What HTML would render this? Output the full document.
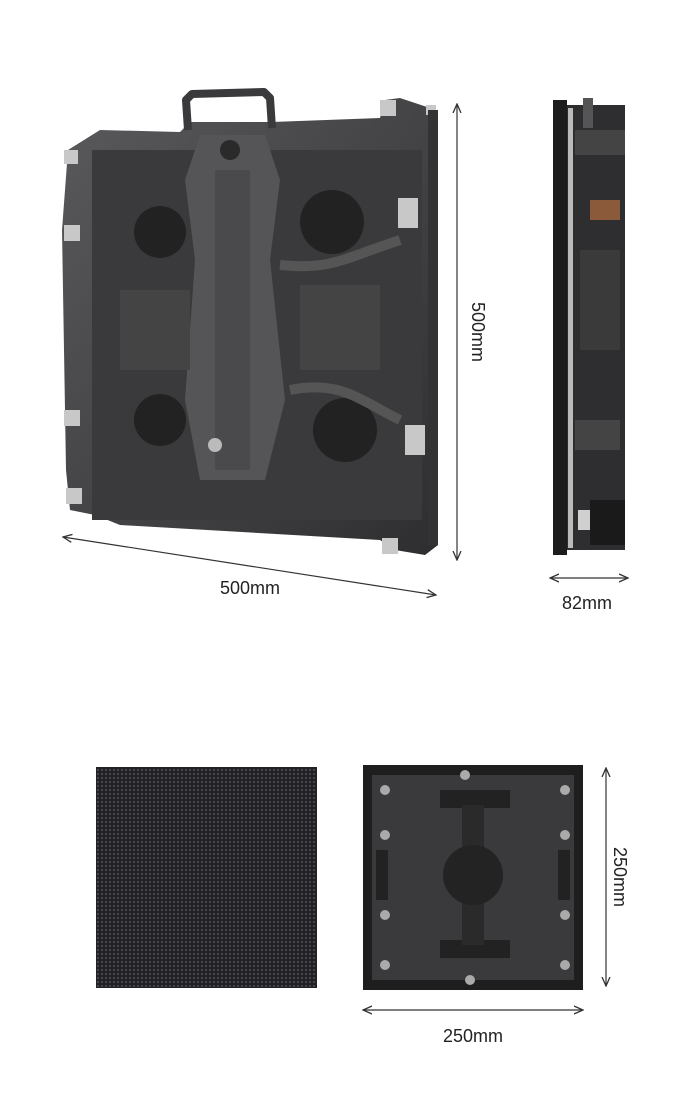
<!DOCTYPE html>
<html><head><meta charset="utf-8"><style>
html,body{margin:0;padding:0;background:#fff;}
svg{display:block;}
text{font-family:"Liberation Sans",Arial,sans-serif;fill:#222;}
</style></head><body>
<svg width="700" height="1100" viewBox="0 0 700 1100" xmlns="http://www.w3.org/2000/svg">
<defs>
<marker id="a" markerWidth="10" markerHeight="10" refX="9" refY="5" orient="auto-start-reverse" markerUnits="userSpaceOnUse">
<path d="M0,1 L9,5 L0,9" fill="none" stroke="#333" stroke-width="1.3"/></marker>
<pattern id="dots" width="4" height="4" patternUnits="userSpaceOnUse">
<rect width="4" height="4" fill="#222226"/><circle cx="2" cy="2" r="1" fill="#505058"/></pattern>
<linearGradient id="g1" x1="0" y1="0" x2="1" y2="1"><stop offset="0" stop-color="#5a5a5c"/><stop offset="1" stop-color="#2e2e30"/></linearGradient>
</defs>

<!-- main cabinet -->
<path d="M100,130 L180,132 L190,122 L272,122 L380,118 L385,100 L400,98 L430,108 L438,545 L425,555 L395,550 L380,540 L120,525 L95,515 L70,510 L66,470 L62,230 L68,150 Z" fill="url(#g1)"/>
<path d="M188,130 L186,100 L192,94 L264,92 L270,98 L272,128" fill="none" stroke="#3a3a3c" stroke-width="8" stroke-linejoin="round"/>
<rect x="92" y="150" width="330" height="370" fill="#3a3a3c"/>
<path d="M200,135 L265,135 L280,180 L270,260 L285,400 L265,480 L200,480 L185,400 L195,260 L185,180 Z" fill="#555557"/>
<rect x="215" y="170" width="35" height="300" fill="#4a4a4c"/>
<circle cx="230" cy="150" r="10" fill="#2a2a2a"/>
<circle cx="215" cy="445" r="7" fill="#bbb"/>
<g fill="#222">
<circle cx="160" cy="232" r="26"/><circle cx="160" cy="420" r="26"/>
<circle cx="332" cy="222" r="32"/><circle cx="345" cy="430" r="32"/>
</g>
<g fill="#444"><rect x="120" y="290" width="70" height="80"/><rect x="300" y="285" width="80" height="85"/></g>
<path d="M280,265 C330,270 340,260 400,240 M290,390 C340,380 360,400 400,420" stroke="#555" stroke-width="10" fill="none"/>
<g fill="#c8c8c8"><rect x="64" y="150" width="14" height="14"/><rect x="64" y="225" width="16" height="16"/><rect x="64" y="410" width="16" height="16"/><rect x="66" y="488" width="16" height="16"/><rect x="380" y="100" width="16" height="16"/><rect x="398" y="198" width="20" height="30"/><rect x="405" y="425" width="20" height="30"/><rect x="382" y="538" width="16" height="16"/><rect x="426" y="105" width="10" height="10"/></g>
<rect x="428" y="110" width="10" height="435" fill="#333"/>

<!-- side view -->
<rect x="565" y="105" width="60" height="445" fill="#2e2e30"/>
<rect x="553" y="100" width="14" height="455" fill="#1d1d1e"/>
<rect x="568" y="108" width="5" height="440" fill="#bbb"/>
<rect x="583" y="98" width="10" height="30" fill="#555"/>
<rect x="575" y="130" width="50" height="25" fill="#444"/>
<rect x="590" y="200" width="30" height="20" fill="#8a5a3a"/>
<rect x="580" y="250" width="40" height="100" fill="#3a3a3a"/>
<rect x="575" y="420" width="45" height="30" fill="#444"/>
<rect x="578" y="510" width="15" height="20" fill="#d0d0d0"/>
<rect x="590" y="500" width="35" height="45" fill="#1a1a1a"/>

<!-- dimension lines top -->
<line x1="457" y1="104" x2="457" y2="560" stroke="#333" stroke-width="1.2" marker-start="url(#a)" marker-end="url(#a)"/>
<text x="0" y="0" font-size="18" text-anchor="middle" transform="translate(472,332) rotate(90)">500mm</text>
<line x1="63" y1="537" x2="436" y2="595" stroke="#333" stroke-width="1.2" marker-start="url(#a)" marker-end="url(#a)"/>
<text x="250" y="594" font-size="18" text-anchor="middle">500mm</text>
<line x1="550" y1="578" x2="628" y2="578" stroke="#333" stroke-width="1.2" marker-start="url(#a)" marker-end="url(#a)"/>
<text x="587" y="609" font-size="18" text-anchor="middle">82mm</text>

<!-- front module -->
<rect x="96" y="767" width="221" height="221" fill="url(#dots)"/>

<!-- back module -->
<rect x="363" y="765" width="220" height="225" fill="#1e1e1f"/>
<rect x="372" y="775" width="202" height="205" fill="#3a3a3c"/>
<rect x="440" y="790" width="70" height="18" fill="#222"/>
<rect x="462" y="805" width="22" height="45" fill="#2a2a2a"/>
<rect x="440" y="940" width="70" height="18" fill="#222"/>
<rect x="462" y="900" width="22" height="45" fill="#2a2a2a"/>
<circle cx="473" cy="875" r="30" fill="#232323"/>
<rect x="376" y="850" width="12" height="50" fill="#222"/>
<rect x="558" y="850" width="12" height="50" fill="#222"/>
<g fill="#aaa"><circle cx="385" cy="790" r="5"/><circle cx="565" cy="790" r="5"/><circle cx="385" cy="965" r="5"/><circle cx="565" cy="965" r="5"/><circle cx="465" cy="775" r="5"/><circle cx="470" cy="980" r="5"/><circle cx="565" cy="835" r="5"/><circle cx="565" cy="915" r="5"/><circle cx="385" cy="835" r="5"/><circle cx="385" cy="915" r="5"/></g>

<line x1="606" y1="768" x2="606" y2="986" stroke="#333" stroke-width="1.2" marker-start="url(#a)" marker-end="url(#a)"/>
<text x="0" y="0" font-size="18" text-anchor="middle" transform="translate(614,877) rotate(90)">250mm</text>
<line x1="363" y1="1010" x2="583" y2="1010" stroke="#333" stroke-width="1.2" marker-start="url(#a)" marker-end="url(#a)"/>
<text x="473" y="1042" font-size="18" text-anchor="middle">250mm</text>
</svg>
</body></html>
